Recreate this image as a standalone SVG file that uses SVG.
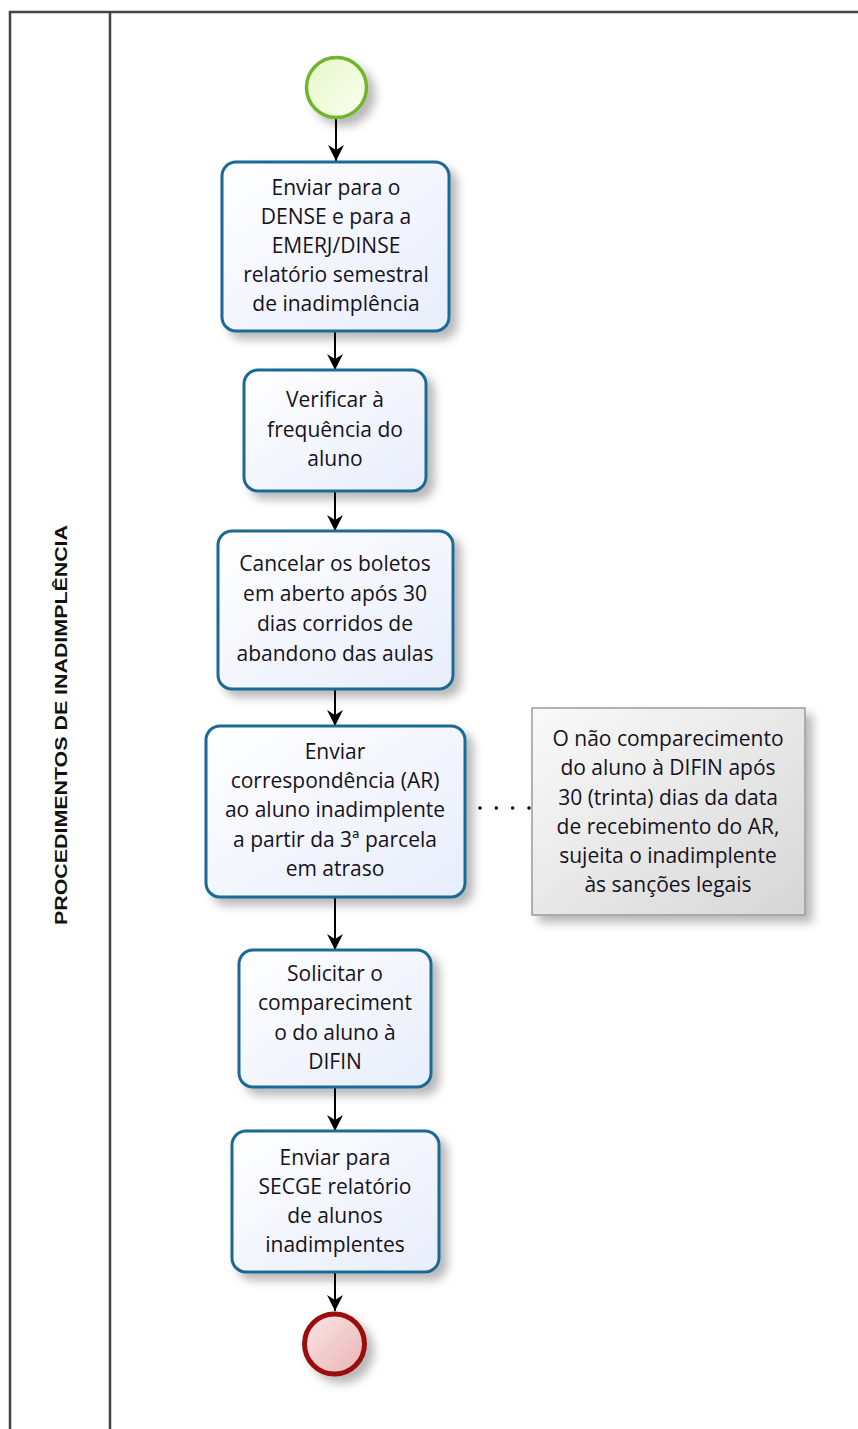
<svg xmlns="http://www.w3.org/2000/svg" width="858" height="1429" viewBox="0 0 858 1429">
  <defs>
    <linearGradient id="taskFill" x1="0" y1="0" x2="1" y2="1">
      <stop offset="0" stop-color="#ffffff"/>
      <stop offset="1" stop-color="#e8edfb"/>
    </linearGradient>
    <linearGradient id="noteFill" x1="0" y1="0" x2="1" y2="1">
      <stop offset="0" stop-color="#fafafa"/>
      <stop offset="1" stop-color="#d6d6d6"/>
    </linearGradient>
    <linearGradient id="startFill" x1="0" y1="0" x2="1" y2="1">
      <stop offset="0" stop-color="#e6f7c8"/>
      <stop offset="1" stop-color="#fbfff0"/>
    </linearGradient>
    <linearGradient id="endFill" x1="0" y1="0" x2="1" y2="1">
      <stop offset="0" stop-color="#fbe6e6"/>
      <stop offset="1" stop-color="#e9b3b3"/>
    </linearGradient>
    <filter id="shadow" x="-20%" y="-20%" width="150%" height="150%">
      <feDropShadow dx="7" dy="7" stdDeviation="5" flood-color="#000" flood-opacity="0.28"/>
    </filter>
    <marker id="arrow" viewBox="0 0 16 16" refX="16" refY="8" markerWidth="16" markerHeight="16" markerUnits="userSpaceOnUse" orient="auto">
      <path d="M0,0 L16,8 L0,16 L5,8 z" fill="#000"/>
    </marker>
    <style>
      .pool { fill: none; stroke: #444; stroke-width: 2.5; }
      .task { fill: url(#taskFill); stroke: #1d6a93; stroke-width: 3; filter: url(#shadow); }
      .note { fill: url(#noteFill); stroke: #9a9a9a; stroke-width: 1.5; filter: url(#shadow); }
      .label { font-family: "Open Sans", "DejaVu Sans", sans-serif; font-size: 21px; fill: #16121c; text-anchor: middle; }
      .lane { font-family: "Liberation Sans", Arial, sans-serif; font-size: 17px; font-weight: bold; fill: #111; text-anchor: middle; }
      .flow { fill: none; stroke: #000; stroke-width: 2; marker-end: url(#arrow); }
      .assoc { fill: none; stroke: #000; stroke-width: 3.5; stroke-dasharray: 0 16.33; stroke-linecap: round; }
    </style>
  </defs>

  <rect width="858" height="1429" fill="#fff"/>

  <!-- pool and lane -->
  <g id="pool">
    <path class="pool" d="M10,1429 L10,12 L858,12"/>
    <line class="pool" x1="110" y1="12" x2="110" y2="1429"/>
    <text class="lane" transform="translate(67,725) rotate(-90)" textLength="400" lengthAdjust="spacingAndGlyphs">PROCEDIMENTOS DE INADIMPLÊNCIA</text>
  </g>

  <!-- connectors -->
  <g id="connectors">
    <line class="flow" x1="336" y1="118" x2="336" y2="161"/>
    <line class="flow" x1="335" y1="331" x2="335" y2="370"/>
    <line class="flow" x1="335" y1="491" x2="335" y2="531"/>
    <line class="flow" x1="335" y1="689" x2="335" y2="726"/>
    <line class="flow" x1="335" y1="897" x2="335" y2="950"/>
    <line class="flow" x1="335" y1="1087" x2="335" y2="1131"/>
    <line class="flow" x1="335" y1="1272" x2="335" y2="1311"/>
    <line class="assoc" x1="480" y1="808" x2="529" y2="808"/>
  </g>

  <!-- start event -->
  <g id="start">
    <circle cx="336.5" cy="87.5" r="30" fill="url(#startFill)" stroke="#6fb52c" stroke-width="3.5" filter="url(#shadow)"/>
  </g>

  <g id="task1">
    <rect class="task" x="222" y="162" width="227" height="169" rx="14"/>
    <text class="label"><tspan x="336" y="195">Enviar para o</tspan><tspan x="336" y="224">DENSE e para a</tspan><tspan x="336" y="253">EMERJ/DINSE</tspan><tspan x="336" y="282">relatório semestral</tspan><tspan x="336" y="311">de inadimplência</tspan></text>
  </g>

  <g id="task2">
    <rect class="task" x="244" y="370" width="182" height="121" rx="14"/>
    <text class="label"><tspan x="335" y="407">Verificar à</tspan><tspan x="335" y="437">frequência do</tspan><tspan x="335" y="466">aluno</tspan></text>
  </g>

  <g id="task3">
    <rect class="task" x="218" y="531" width="235" height="158" rx="14"/>
    <text class="label"><tspan x="335" y="571">Cancelar os boletos</tspan><tspan x="335" y="601">em aberto após 30</tspan><tspan x="335" y="631">dias corridos de</tspan><tspan x="335" y="661">abandono das aulas</tspan></text>
  </g>

  <g id="task4">
    <rect class="task" x="206" y="726" width="259" height="171" rx="14"/>
    <text class="label"><tspan x="335" y="759">Enviar</tspan><tspan x="335" y="788">correspondência (AR)</tspan><tspan x="335" y="817">ao aluno inadimplente</tspan><tspan x="335" y="847">a partir da 3ª parcela</tspan><tspan x="335" y="876">em atraso</tspan></text>
  </g>

  <g id="note">
    <rect class="note" x="532" y="708" width="273" height="207"/>
    <text class="label"><tspan x="668" y="746">O não comparecimento</tspan><tspan x="668" y="775">do aluno à DIFIN após</tspan><tspan x="668" y="805">30 (trinta) dias da data</tspan><tspan x="668" y="834">de recebimento do AR,</tspan><tspan x="668" y="863">sujeita o inadimplente</tspan><tspan x="668" y="892">às sanções legais</tspan></text>
  </g>

  <g id="task5">
    <rect class="task" x="239" y="950" width="192" height="137" rx="14"/>
    <text class="label"><tspan x="335" y="981">Solicitar o</tspan><tspan x="335" y="1010">compareciment</tspan><tspan x="335" y="1040">o do aluno à</tspan><tspan x="335" y="1069">DIFIN</tspan></text>
  </g>

  <g id="task6">
    <rect class="task" x="232" y="1131" width="207" height="141" rx="14"/>
    <text class="label"><tspan x="335" y="1165">Enviar para</tspan><tspan x="335" y="1194">SECGE relatório</tspan><tspan x="335" y="1223">de alunos</tspan><tspan x="335" y="1252">inadimplentes</tspan></text>
  </g>

  <!-- end event -->
  <g id="end">
    <circle cx="334.5" cy="1344" r="30" fill="url(#endFill)" stroke="#9b1010" stroke-width="5" filter="url(#shadow)"/>
  </g>
</svg>
